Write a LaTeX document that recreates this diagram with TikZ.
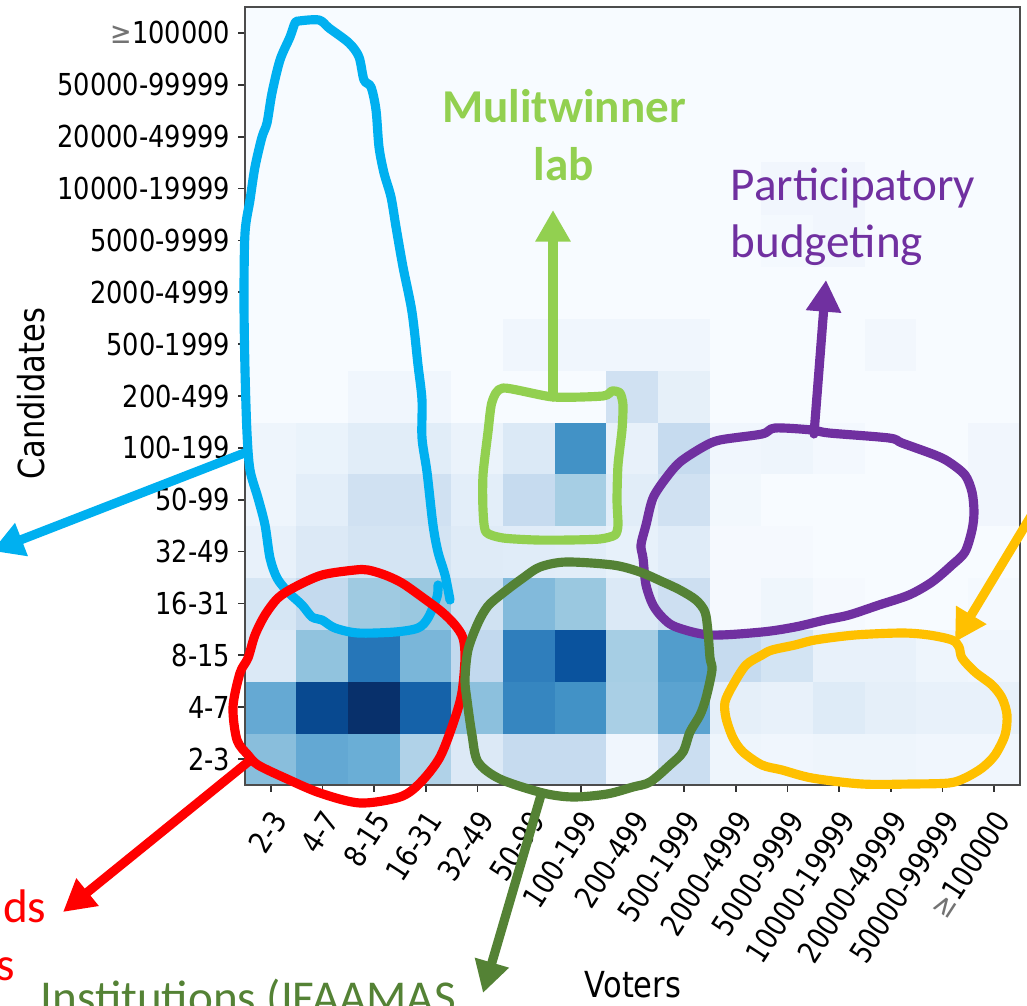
\documentclass[tikz,border=0pt]{standalone}
\usepackage{fontspec}
\setmainfont{Carlito}
\newfontfamily\plotfont[FakeStretch=0.85]{DejaVu Sans}
\usetikzlibrary{arrows.meta}

\definecolor{skyblue}{HTML}{00B0F0}
\definecolor{redmark}{HTML}{FF0000}
\definecolor{limegreen}{HTML}{92D050}
\definecolor{darkgreen}{HTML}{548235}
\definecolor{pbpurple}{HTML}{7030A0}
\definecolor{amber}{HTML}{FFC000}
\definecolor{cellbg}{HTML}{F7FBFF}

\newcommand{\geqmark}{{\color{black!55}≥}}
\def\binlabels{2-3,4-7,8-15,16-31,32-49,50-99,100-199,200-499,500-1999,2000-4999,5000-9999,10000-19999,20000-49999,50000-99999,\geqmark100000}

\begin{document}
\begin{tikzpicture}[x=0.01cm, y=-0.01cm,
    hand/.style={line width=2.6pt, line join=round, line cap=round},
    pointer/.style={hand, -{Triangle[width=9.5pt,length=9pt]}},
    ticklab/.style={font=\plotfont\fontsize{8.6pt}{10pt}\selectfont, inner sep=0pt},
    axislab/.style={font=\plotfont\fontsize{10.2pt}{12pt}\selectfont, inner sep=0pt},
    note/.style={font=\fontsize{13.4pt}{16pt}\selectfont, inner sep=0pt}]
  \useasboundingbox (0,0) rectangle (1027,1006);
  \clip (0,0) rectangle (1027,1006);
  \fill[white] (0,0) rectangle (1027,1006);
  \def\cw{51.667}
  \def\ch{51.867}

  % heat map, bottom row (2-3 candidates) first
  \fill[cellbg] (245,7) rectangle (1020,785);
  \foreach \cells [count=\r from 0] in {
      {89BEDC,63A8D3,6AAED6,B0D2E8,DCE9F6,C6DBEF,C6DBEF,F0F6FD,CBDEF1,EEF5FC,F0F6FD,EEF5FC,EEF5FC,F0F6FD,F0F6FD},
      {65A9D3,084990,08306B,1562A9,8CC0DD,3686C0,4292C6,A9CFE5,5BA3D0,E5EFF9,E8F1FA,DEEBF7,E5EFF9,E8F1FA,E8F1FA},
      {DBE9F6,91C3DE,2676B8,7AB6D9,C2D9EE,2F7EBC,0A539E,A6CEE4,529DCC,C6DBEF,D3E4F3,E8F1FA,E8F1FA,EEF5FC,F0F6FD},
      {D6E6F4,C4DAEE,9FCAE1,9AC8E0,D0E2F2,82BADB,9AC8E0,DBE9F6,CDDFF1,F5F9FE,EFF6FC,F5F9FE,F7FBFF,F7FBFF,F4F9FE},
      {E8F1FA,DCE9F6,D4E4F3,D4E4F3,DFEBF7,E0ECF8,E1EDF8,E7F1FA,E0ECF8,F5F9FE,F5F9FE,F7FBFF,F7FBFF,F7FBFF,F7FBFF},
      {EEF5FC,E3EEF9,D0E1F2,D0E1F2,E3EEF9,C6DBEF,A6CEE4,E1EDF8,D0E1F2,F2F8FD,F7FBFF,F7FBFF,F7FBFF,F7FBFF,F1F6FD},
      {EEF5FC,EAF3FB,E1EDF8,E1EDF8,EBF3FB,DBE9F6,4292C6,E8F1FA,C6DBEF,F0F6FD,EEF5FC,F3F8FE,F7FBFF,F7FBFF,F1F6FD},
      {F7FBFF,F7FBFF,F0F6FD,F0F6FD,F7FBFF,F7FBFF,F7FBFF,D0E1F2,E6F0F9,F7FBFF,F7FBFF,F7FBFF,F7FBFF,F7FBFF,F7FBFF},
      {F7FBFF,F7FBFF,F7FBFF,F7FBFF,F7FBFF,F0F6FD,F0F6FD,F0F6FD,F0F6FD,F7FBFF,F7FBFF,F7FBFF,F2F7FD,F7FBFF,F7FBFF},
      {F7FBFF,F7FBFF,F7FBFF,F7FBFF,F7FBFF,F7FBFF,F7FBFF,F7FBFF,F7FBFF,F7FBFF,F7FBFF,F7FBFF,F7FBFF,F7FBFF,F7FBFF},
      {F7FBFF,F7FBFF,F7FBFF,F7FBFF,F7FBFF,F7FBFF,F7FBFF,F7FBFF,F7FBFF,F7FBFF,F4F9FE,F1F6FD,F7FBFF,F7FBFF,F7FBFF},
      {F7FBFF,F7FBFF,F7FBFF,F7FBFF,F7FBFF,F7FBFF,F7FBFF,F7FBFF,F7FBFF,F7FBFF,F1F6FD,F1F6FD,F7FBFF,F7FBFF,F7FBFF}}{
    \foreach \hex [count=\c from 0] in \cells {
      \definecolor{cell}{HTML}{\hex}
      \path[fill=cell, draw=cell, line width=0.2pt] ({245+\c*\cw},{785-\r*\ch}) rectangle ++(\cw,-\ch);
    }
  }

  % axes: ticks and bin labels
  \foreach \lab [count=\i from 0] in \binlabels {
    \draw[black!80, line width=0.5pt] ({245+(\i+0.5)*\cw},785) -- ++(0,7);
    \node[ticklab, rotate=57, anchor=base east] (xt\i) at ({245+(\i+0.5)*\cw+18},820) {\lab};
    \draw[black!80, line width=0.5pt] (238,{785-(\i+0.5)*\ch}) -- ++(7,0);
    \node[ticklab, anchor=base east] (yt\i) at (231,{785-(\i+0.5)*\ch+11}) {\lab};
  }
  \draw[black!70, line width=0.6pt] (245,7) rectangle (1020,785);
  \node[axislab, rotate=90] (ylab) at (31,394) {Candidates};
  \node[axislab] (xlab) at (633,985) {Voters};

  % hand-drawn regions
  \draw[hand, skyblue] plot[smooth, tension=0.5] coordinates {(450,600) (445,575) (438,552) (433,525) (427,472) (422,438) (422,400) (418,365) (412,312) (403,267) (396,227) (391,197) (384,173) (379,147) (376,110) (371,87) (364,80) (359,57) (349,43) (329,28) (319,20) (299,21) (295,23) (290,37) (280,60) (272,93) (267,123) (262,137) (255,167) (250,200) (245,233) (244,300) (245,370) (247,433) (250,470) (258,498) (265,525) (270,558) (277,578) (288,592) (302,605) (312,617) (322,620) (335,628) (358,633) (395,632) (418,628) (428,618) (437,597) (438,585)};
  \draw[hand, redmark] plot[smooth cycle, tension=0.5] coordinates {(355,570) (322,575) (295,587) (278,598) (265,615) (255,635) (248,658) (240,673) (233,707) (237,740) (248,755) (258,765) (285,778) (320,793) (360,803) (400,797) (420,783) (440,757) (455,718) (462,692) (465,658) (463,638) (455,625) (442,612) (422,597) (402,583) (385,575) (368,570)};
  \draw[hand, limegreen] plot[smooth cycle, tension=0.4] coordinates {(503,388) (553,397) (603,396) (612,391) (620,393) (623,405) (622,430) (618,465) (617,500) (618,525) (615,535) (600,539) (570,540) (536,540) (503,538) (486,532) (483,510) (483,475) (488,432) (492,402)};
  \draw[hand, pbpurple] plot[smooth cycle, tension=0.5] coordinates {(646,525) (653,498) (666,478) (680,462) (703,447) (720,440) (762,434) (775,428) (812,430) (829,433) (889,438) (902,443) (935,455) (949,462) (965,475) (972,492) (974,512) (972,530) (965,552) (952,565) (932,582) (909,595) (879,605) (849,615) (825,620) (795,627) (762,632) (710,635) (676,627) (663,618) (653,605) (646,585) (643,558) (641,545)};
  \draw[hand, darkgreen] plot[smooth cycle, tension=0.5] coordinates {(503,593) (523,578) (540,567) (566,562) (613,565) (640,572) (663,582) (680,590) (696,600) (705,612) (708,632) (710,658) (712,670) (706,698) (700,715) (690,732) (683,752) (670,765) (650,782) (633,787) (607,794) (573,797) (543,793) (500,779) (478,762) (472,735) (467,700) (465,680) (468,650) (478,623) (488,606)};
  \draw[hand, amber] plot[smooth cycle, tension=0.5] coordinates {(746,665) (762,655) (772,650) (795,645) (815,640) (855,635) (902,633) (929,635) (952,640) (959,647) (962,658) (975,672) (992,685) (1002,698) (1007,715) (1005,735) (995,755) (982,768) (965,778) (949,783) (912,784) (862,784) (812,778) (782,770) (762,765) (743,752) (733,738) (726,718) (725,702) (733,685)};

  % pointers and their labels
  \coordinate (blueroot) at (247,452);
  \coordinate (bluetip) at (-8,551);
  \coordinate (redroot) at (248,762);
  \coordinate (redtip) at (63,912);
  \coordinate (limeroot) at (553,397);
  \coordinate (limetip) at (553,210);
  \coordinate (purproot) at (814,434);
  \coordinate (purptip) at (826,280);
  \coordinate (greenroot) at (541,795);
  \coordinate (greentip) at (483,993);
  \coordinate (amberroot) at (1060,468);
  \coordinate (ambertip) at (955,642);

  \draw[pointer, skyblue] (blueroot) -- (bluetip);
  \draw[pointer, redmark] (redroot) -- (redtip);
  \draw[pointer, limegreen] (limeroot) -- (limetip);
  \draw[pointer, pbpurple] (purproot) -- (purptip);
  \draw[pointer, darkgreen] (greenroot) -- (greentip);
  \draw[pointer, amber] (amberroot) -- (ambertip);

  \node[note, limegreen, anchor=base] (mw1) at (564,122) {\bfseries Mulitwinner};
  \node[note, limegreen, anchor=base] (mw2) at (564,180) {\bfseries lab};
  \node[note, pbpurple, anchor=base west] (pb1) at (730,200) {Participatory};
  \node[note, pbpurple, anchor=base west] (pb2) at (730,257) {budgeting};
  \node[note, redmark, anchor=base east] (rd1) at (47,922) {nds};
  \node[note, redmark, anchor=base east] (rd2) at (16,980) {s};
  \node[note, darkgreen, anchor=base west] (inst) at (40,1013) {Institutions (IFAAMAS};
\end{tikzpicture}
\end{document}
